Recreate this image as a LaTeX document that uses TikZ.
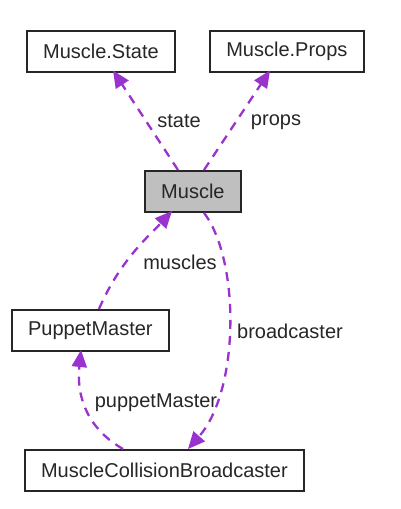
\documentclass[tikz,border=0pt]{standalone}
\usepackage{fontspec}
\setmainfont{Liberation Sans}
\usetikzlibrary{arrows.meta}
\definecolor{edgec}{HTML}{9A32CD}
\begin{document}
\begin{tikzpicture}[x=1pt,y=-1pt,
  cls/.style={draw=black!85, line width=1.8pt, inner sep=0pt, font=\fontsize{20}{22}\selectfont, text=black!85, anchor=north west},
  rel/.style={draw=edgec, line width=2.3pt, dash pattern=on 9pt off 7pt, -{Triangle[length=17pt,width=15pt]}, color=edgec},
  lbl/.style={font=\fontsize{20}{22}\selectfont, text=black!85}]
\useasboundingbox (0,0) rectangle (400,509);
\node[cls, minimum width=148pt, minimum height=41pt] (state) at (26,30) {Muscle.State};
\node[cls, minimum width=154pt, minimum height=41pt] (props) at (209,30) {Muscle.Props};
\node[cls, fill=black!25, minimum width=96pt, minimum height=41pt] (muscle) at (144,170) {Muscle};
\node[cls, minimum width=157pt, minimum height=41pt] (pm) at (11,309) {PuppetMaster};
\node[cls, minimum width=279pt, minimum height=41pt] (mcb) at (24,449) {MuscleCollisionBroadcaster};
\draw[rel] (muscle.north west) ++(34,0) -- (113,70.5);
\draw[rel] (muscle.north west) ++(60,0) -- (270,70.5);
\draw[rel] (pm.north west) ++(88,0) .. controls (120,260) and (150,235) .. (172,211);
\draw[rel] (muscle.south west) ++(60,0) .. controls (240,260) and (240,390) .. (188,449);
\draw[rel] (mcb.north west) ++(99,0) .. controls (90,430) and (76,400) .. (81,350);
\node[lbl] (l1) at (179,121) {state};
\node[lbl] (l2) at (276,122) {props};
\node[lbl] (l3) at (180,262) {muscles};
\node[lbl] (l4) at (290,331) {broadcaster};
\node[lbl] (l5) at (156,403) {puppetMaster};
\end{tikzpicture}
\end{document}
